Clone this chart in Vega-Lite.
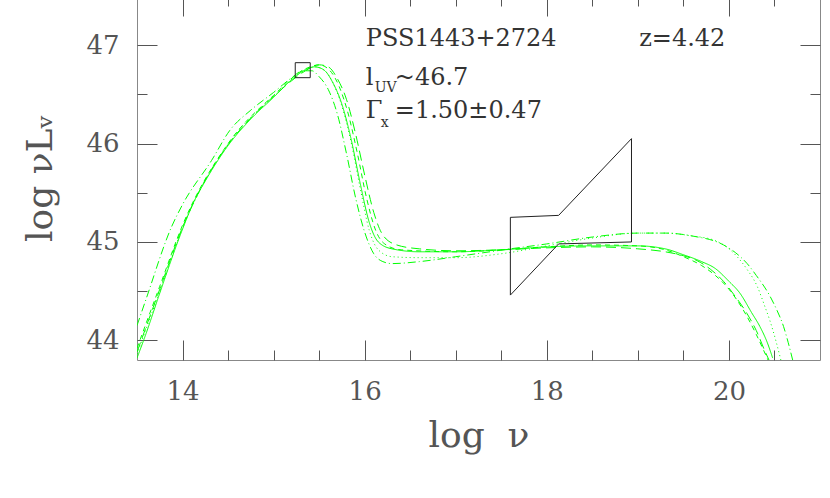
{
  "$schema": "https://vega.github.io/schema/vega-lite/v6.json",
  "width": 683,
  "height": 364,
  "autosize": {"type": "none"},
  "padding": {"left": 137, "top": -4, "right": 10, "bottom": 138},
  "background": "white",
  "config": {
    "view": {"stroke": "#888", "strokeWidth": 1},
    "axis": {
      "domain": false,
      "grid": false,
      "ticks": true,
      "tickColor": "#555",
      "tickWidth": 1,
      "labelFont": "DejaVu Serif",
      "labelFontSize": 26,
      "labelColor": "#555",
      "titleFont": "DejaVu Serif",
      "titleFontSize": 36,
      "titleFontWeight": "normal",
      "titleColor": "#555"
    }
  },
  "datasets": {
    "curves": [
      {"m": "a", "x": 13.5, "y": 43.82}, {"m": "a", "x": 13.6, "y": 44.07}, {"m": "a", "x": 13.75, "y": 44.48},
      {"m": "a", "x": 14.0, "y": 45.13}, {"m": "a", "x": 14.12, "y": 45.4}, {"m": "a", "x": 14.25, "y": 45.62}, {"m": "a", "x": 14.5, "y": 45.98},
      {"m": "a", "x": 14.75, "y": 46.25}, {"m": "a", "x": 15.0, "y": 46.47}, {"m": "a", "x": 15.2, "y": 46.65},
      {"m": "a", "x": 15.35, "y": 46.75}, {"m": "a", "x": 15.45, "y": 46.78}, {"m": "a", "x": 15.55, "y": 46.75},
      {"m": "a", "x": 15.65, "y": 46.62}, {"m": "a", "x": 15.75, "y": 46.4}, {"m": "a", "x": 15.85, "y": 46.05},
      {"m": "a", "x": 15.95, "y": 45.6}, {"m": "a", "x": 16.05, "y": 45.2}, {"m": "a", "x": 16.15, "y": 45.0},
      {"m": "a", "x": 16.3, "y": 44.93}, {"m": "a", "x": 16.6, "y": 44.9}, {"m": "a", "x": 17.0, "y": 44.9},
      {"m": "a", "x": 17.5, "y": 44.92}, {"m": "a", "x": 18.0, "y": 44.95}, {"m": "a", "x": 18.5, "y": 44.96},
      {"m": "a", "x": 19.0, "y": 44.96}, {"m": "a", "x": 19.3, "y": 44.93}, {"m": "a", "x": 19.5, "y": 44.87},
      {"m": "a", "x": 19.7, "y": 44.8}, {"m": "a", "x": 19.85, "y": 44.73}, {"m": "a", "x": 20.0, "y": 44.6},
      {"m": "a", "x": 20.12, "y": 44.48}, {"m": "a", "x": 20.25, "y": 44.28}, {"m": "a", "x": 20.34, "y": 44.14},
      {"m": "a", "x": 20.42, "y": 43.98}, {"m": "a", "x": 20.48, "y": 43.82},

      {"m": "b", "x": 13.5, "y": 43.88}, {"m": "b", "x": 13.75, "y": 44.52}, {"m": "b", "x": 14.0, "y": 45.15},
      {"m": "b", "x": 14.25, "y": 45.63}, {"m": "b", "x": 14.5, "y": 45.99}, {"m": "b", "x": 14.75, "y": 46.26},
      {"m": "b", "x": 15.0, "y": 46.48}, {"m": "b", "x": 15.2, "y": 46.64}, {"m": "b", "x": 15.35, "y": 46.74},
      {"m": "b", "x": 15.5, "y": 46.8}, {"m": "b", "x": 15.6, "y": 46.78}, {"m": "b", "x": 15.7, "y": 46.66},
      {"m": "b", "x": 15.8, "y": 46.45}, {"m": "b", "x": 15.9, "y": 46.1}, {"m": "b", "x": 16.0, "y": 45.68},
      {"m": "b", "x": 16.1, "y": 45.3}, {"m": "b", "x": 16.2, "y": 45.07}, {"m": "b", "x": 16.35, "y": 44.97},
      {"m": "b", "x": 16.6, "y": 44.93}, {"m": "b", "x": 17.0, "y": 44.91}, {"m": "b", "x": 17.5, "y": 44.92},
      {"m": "b", "x": 18.0, "y": 44.94}, {"m": "b", "x": 18.5, "y": 44.95}, {"m": "b", "x": 19.0, "y": 44.93},
      {"m": "b", "x": 19.3, "y": 44.9}, {"m": "b", "x": 19.5, "y": 44.86}, {"m": "b", "x": 19.65, "y": 44.81},
      {"m": "b", "x": 19.8, "y": 44.72}, {"m": "b", "x": 19.94, "y": 44.6}, {"m": "b", "x": 20.05, "y": 44.47},
      {"m": "b", "x": 20.2, "y": 44.27}, {"m": "b", "x": 20.3, "y": 44.1}, {"m": "b", "x": 20.4, "y": 43.88},
      {"m": "b", "x": 20.44, "y": 43.8},

      {"m": "c", "x": 13.5, "y": 43.86}, {"m": "c", "x": 13.75, "y": 44.5}, {"m": "c", "x": 14.0, "y": 45.14},
      {"m": "c", "x": 14.5, "y": 45.99}, {"m": "c", "x": 15.0, "y": 46.48}, {"m": "c", "x": 15.35, "y": 46.75},
      {"m": "c", "x": 15.45, "y": 46.78}, {"m": "c", "x": 15.55, "y": 46.75}, {"m": "c", "x": 15.65, "y": 46.62},
      {"m": "c", "x": 15.75, "y": 46.38}, {"m": "c", "x": 15.85, "y": 46.02}, {"m": "c", "x": 15.95, "y": 45.55},
      {"m": "c", "x": 16.05, "y": 45.12}, {"m": "c", "x": 16.15, "y": 44.92}, {"m": "c", "x": 16.3, "y": 44.85},
      {"m": "c", "x": 16.6, "y": 44.84}, {"m": "c", "x": 17.0, "y": 44.84}, {"m": "c", "x": 17.5, "y": 44.88},
      {"m": "c", "x": 18.0, "y": 44.96}, {"m": "c", "x": 18.5, "y": 45.04}, {"m": "c", "x": 19.0, "y": 45.09},
      {"m": "c", "x": 19.3, "y": 45.09}, {"m": "c", "x": 19.6, "y": 45.06}, {"m": "c", "x": 19.83, "y": 45.02},
      {"m": "c", "x": 20.0, "y": 44.93}, {"m": "c", "x": 20.09, "y": 44.85}, {"m": "c", "x": 20.2, "y": 44.72},
      {"m": "c", "x": 20.31, "y": 44.55}, {"m": "c", "x": 20.4, "y": 44.33}, {"m": "c", "x": 20.45, "y": 44.2},
      {"m": "c", "x": 20.52, "y": 43.98}, {"m": "c", "x": 20.57, "y": 43.8},

      {"m": "d", "x": 13.5, "y": 44.15}, {"m": "d", "x": 13.6, "y": 44.42}, {"m": "d", "x": 13.88, "y": 45.155},
      {"m": "d", "x": 14.0, "y": 45.38}, {"m": "d", "x": 14.32, "y": 45.83}, {"m": "d", "x": 14.52, "y": 46.135},
      {"m": "d", "x": 14.75, "y": 46.34}, {"m": "d", "x": 15.0, "y": 46.52}, {"m": "d", "x": 15.2, "y": 46.67},
      {"m": "d", "x": 15.32, "y": 46.74}, {"m": "d", "x": 15.42, "y": 46.74}, {"m": "d", "x": 15.5, "y": 46.68},
      {"m": "d", "x": 15.6, "y": 46.55}, {"m": "d", "x": 15.7, "y": 46.3}, {"m": "d", "x": 15.8, "y": 45.9},
      {"m": "d", "x": 15.9, "y": 45.45}, {"m": "d", "x": 16.0, "y": 45.1}, {"m": "d", "x": 16.1, "y": 44.88},
      {"m": "d", "x": 16.2, "y": 44.8}, {"m": "d", "x": 16.3, "y": 44.78}, {"m": "d", "x": 16.6, "y": 44.8},
      {"m": "d", "x": 17.0, "y": 44.85}, {"m": "d", "x": 17.3, "y": 44.89}, {"m": "d", "x": 17.6, "y": 44.93},
      {"m": "d", "x": 18.0, "y": 44.98}, {"m": "d", "x": 18.5, "y": 45.05}, {"m": "d", "x": 19.0, "y": 45.09},
      {"m": "d", "x": 19.3, "y": 45.09}, {"m": "d", "x": 19.6, "y": 45.06}, {"m": "d", "x": 19.94, "y": 44.97},
      {"m": "d", "x": 20.1, "y": 44.87}, {"m": "d", "x": 20.2, "y": 44.78}, {"m": "d", "x": 20.3, "y": 44.66},
      {"m": "d", "x": 20.45, "y": 44.45}, {"m": "d", "x": 20.53, "y": 44.3}, {"m": "d", "x": 20.6, "y": 44.14},
      {"m": "d", "x": 20.65, "y": 43.98}, {"m": "d", "x": 20.7, "y": 43.8},

      {"m": "e", "x": 13.5, "y": 43.92}, {"m": "e", "x": 13.75, "y": 44.55}, {"m": "e", "x": 14.0, "y": 45.17},
      {"m": "e", "x": 14.5, "y": 46.0}, {"m": "e", "x": 15.0, "y": 46.49}, {"m": "e", "x": 15.35, "y": 46.76},
      {"m": "e", "x": 15.5, "y": 46.8}, {"m": "e", "x": 15.62, "y": 46.74}, {"m": "e", "x": 15.72, "y": 46.58},
      {"m": "e", "x": 15.82, "y": 46.3}, {"m": "e", "x": 15.92, "y": 45.9}, {"m": "e", "x": 16.02, "y": 45.45},
      {"m": "e", "x": 16.12, "y": 45.12}, {"m": "e", "x": 16.22, "y": 44.98}, {"m": "e", "x": 16.4, "y": 44.92},
      {"m": "e", "x": 17.0, "y": 44.9}, {"m": "e", "x": 17.5, "y": 44.92}, {"m": "e", "x": 18.0, "y": 44.95},
      {"m": "e", "x": 18.5, "y": 44.97}, {"m": "e", "x": 19.0, "y": 44.96}, {"m": "e", "x": 19.3, "y": 44.92},
      {"m": "e", "x": 19.5, "y": 44.85}, {"m": "e", "x": 19.7, "y": 44.76}, {"m": "e", "x": 19.85, "y": 44.66},
      {"m": "e", "x": 20.0, "y": 44.52}, {"m": "e", "x": 20.15, "y": 44.32}, {"m": "e", "x": 20.3, "y": 44.06},
      {"m": "e", "x": 20.4, "y": 43.86}, {"m": "e", "x": 20.43, "y": 43.8}
    ],
    "bowtie": [
      {"i": 0, "x": 17.6, "y": 45.25},
      {"i": 1, "x": 18.13, "y": 45.27},
      {"i": 2, "x": 18.93, "y": 46.05},
      {"i": 3, "x": 18.93, "y": 45.0},
      {"i": 4, "x": 18.13, "y": 44.98},
      {"i": 5, "x": 17.6, "y": 44.46},
      {"i": 6, "x": 17.6, "y": 45.25}
    ],
    "uvpoint": [{"x": 15.32, "y": 46.746}],
    "labels": [
      {"x": 16.012, "y": 46.988, "text": "PSS1443+2724"},
      {"x": 19.014, "y": 46.988, "text": "z=4.42"},
      {"x": 16.012, "y": 46.592, "text": "l"},
      {"x": 16.331, "y": 46.592, "text": "~46.7"},
      {"x": 16.012, "y": 46.258, "text": "Γ"},
      {"x": 16.331, "y": 46.258, "text": "=1.50±0.47"}
    ],
    "subs": [
      {"x": 16.111, "y": 46.521, "text": "UV"},
      {"x": 16.177, "y": 46.166, "text": "x"}
    ]
  },
  "layer": [
    {
      "data": {"name": "curves"},
      "mark": {"type": "line", "strokeWidth": 1, "color": "#00ff00", "clip": true, "interpolate": "monotone"},
      "encoding": {
        "x": {
          "field": "x", "type": "quantitative",
          "scale": {"domain": [13.5, 21], "nice": false, "zero": false},
          "axis": {
            "orient": "bottom",
            "title": "log\u00a0\u00a0ν",
            "values": [14, 16, 18, 20],
            "format": "d",
            "tickSize": -20,
            "labelPadding": 38,
            "titlePadding": 14
          }
        },
        "y": {
          "field": "y", "type": "quantitative",
          "scale": {"domain": [43.8, 47.5], "nice": false, "zero": false},
          "axis": {
            "orient": "left",
            "title": "log νLᵥ",
            "values": [44, 45, 46, 47],
            "format": "d",
            "tickSize": -20,
            "labelPadding": 38,
            "titlePadding": 26
          }
        },
        "strokeDash": {
          "field": "m", "type": "nominal",
          "scale": {"domain": ["a", "b", "c", "d", "e"], "range": [[1, 0], [10, 5], [1, 3], [8, 3, 1, 3], [5, 4]]},
          "legend": null
        }
      }
    },
    {
      "data": {"name": "bowtie"},
      "mark": {"type": "line", "strokeWidth": 1, "color": "#222"},
      "encoding": {
        "x": {
          "field": "x", "type": "quantitative",
          "scale": {"domain": [13.5, 21], "nice": false, "zero": false},
          "axis": {"orient": "top", "labels": false, "title": null, "values": [14, 16, 18, 20], "tickSize": -20}
        },
        "y": {
          "field": "y", "type": "quantitative",
          "scale": {"domain": [43.8, 47.5], "nice": false, "zero": false},
          "axis": {"orient": "right", "labels": false, "title": null, "values": [44, 45, 46, 47], "tickSize": -20}
        },
        "order": {"field": "i", "type": "quantitative"}
      }
    },
    {
      "data": {"name": "uvpoint"},
      "mark": {"type": "point", "shape": "square", "size": 225, "filled": false, "color": "#222", "strokeWidth": 1, "opacity": 1},
      "encoding": {
        "x": {
          "field": "x", "type": "quantitative",
          "scale": {"domain": [13.5, 21], "nice": false, "zero": false},
          "axis": {"orient": "bottom", "labels": false, "title": null, "values": [14.5, 15, 15.5, 16.5, 17, 17.5, 18.5, 19, 19.5, 20.5], "tickSize": -10}
        },
        "y": {
          "field": "y", "type": "quantitative",
          "scale": {"domain": [43.8, 47.5], "nice": false, "zero": false},
          "axis": {"orient": "left", "labels": false, "title": null, "values": [44.5, 45.5, 46.5], "tickSize": -10}
        }
      }
    },
    {
      "data": {"name": "labels"},
      "mark": {"type": "text", "align": "left", "baseline": "alphabetic", "font": "DejaVu Serif", "fontSize": 24, "color": "#333"},
      "encoding": {
        "x": {
          "field": "x", "type": "quantitative",
          "scale": {"domain": [13.5, 21], "nice": false, "zero": false},
          "axis": {"orient": "top", "labels": false, "title": null, "values": [14.5, 15, 15.5, 16.5, 17, 17.5, 18.5, 19, 19.5, 20.5], "tickSize": -10}
        },
        "y": {
          "field": "y", "type": "quantitative",
          "scale": {"domain": [43.8, 47.5], "nice": false, "zero": false},
          "axis": {"orient": "right", "labels": false, "title": null, "values": [44.5, 45.5, 46.5], "tickSize": -10}
        },
        "text": {"field": "text"}
      }
    },
    {
      "data": {"name": "subs"},
      "mark": {"type": "text", "align": "left", "baseline": "alphabetic", "font": "DejaVu Serif", "fontSize": 14, "color": "#333"},
      "encoding": {
        "x": {"field": "x", "type": "quantitative", "scale": {"domain": [13.5, 21], "nice": false, "zero": false}, "axis": null},
        "y": {"field": "y", "type": "quantitative", "scale": {"domain": [43.8, 47.5], "nice": false, "zero": false}, "axis": null},
        "text": {"field": "text"}
      }
    }
  ],
  "resolve": {"axis": {"x": "independent", "y": "independent"}}
}
